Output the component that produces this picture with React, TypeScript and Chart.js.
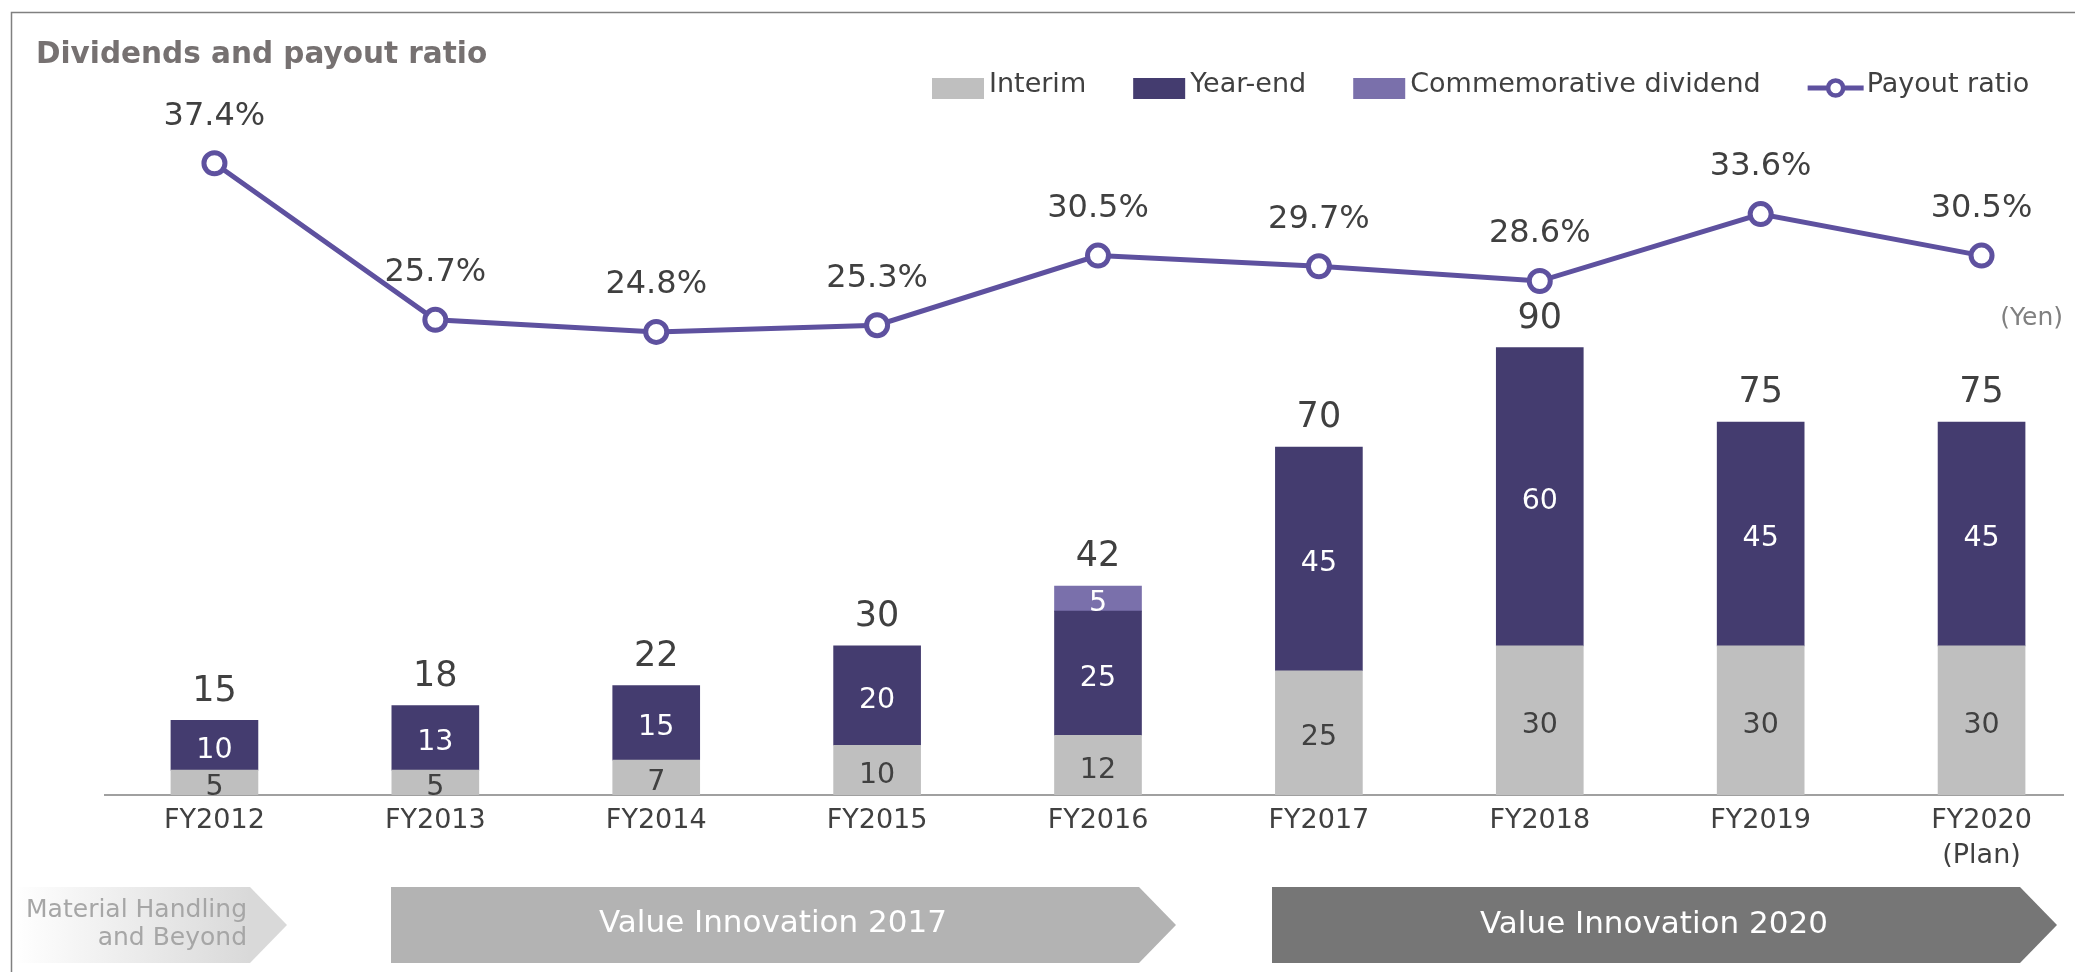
import React, { useEffect, useRef } from 'react';
import { Chart, registerables } from 'chart.js';

Chart.register(...registerables);

const FONT = "'DejaVu Sans', 'Noto Sans', sans-serif";

// ---- data ----
const categories: (string | string[])[] = [
  'FY2012', 'FY2013', 'FY2014', 'FY2015', 'FY2016', 'FY2017', 'FY2018', 'FY2019', ['FY2020', '(Plan)'],
];
const interim = [5, 5, 7, 10, 12, 25, 30, 30, 30];
const yearEnd = [10, 13, 15, 20, 25, 45, 60, 45, 45];
const commemorative: (number | null)[] = [null, null, null, null, 5, null, null, null, null];
const payoutRatio = [37.4, 25.7, 24.8, 25.3, 30.5, 29.7, 28.6, 33.6, 30.5];

const titleText = 'Dividends and payout ratio';
const unitText = '(Yen)';
const seriesNames = ['Interim', 'Year-end', 'Commemorative dividend', 'Payout ratio'];
const phaseLabels = [['Material Handling', 'and Beyond'], ['Value Innovation 2017'], ['Value Innovation 2020']];

// ---- styles ----
const COLORS = {
  interim: '#BFBFBF',
  yearEnd: '#443C6F',
  commem: '#7A70AB',
  line: '#5E519F',
  text: '#404040',
};

function chevron(ctx: CanvasRenderingContext2D, x0: number, x1: number, tip: number, top: number, bottom: number, fill: string | CanvasGradient) {
  ctx.beginPath();
  ctx.moveTo(x0, top);
  ctx.lineTo(x1, top);
  ctx.lineTo(tip, (top + bottom) / 2);
  ctx.lineTo(x1, bottom);
  ctx.lineTo(x0, bottom);
  ctx.closePath();
  ctx.fillStyle = fill;
  ctx.fill();
}

const decorPlugin = {
  id: 'decor',
  beforeDraw(chart: any) {
    const ctx: CanvasRenderingContext2D = chart.ctx;
    ctx.save();
    // frame
    ctx.strokeStyle = '#808080';
    ctx.lineWidth = 1.5;
    ctx.beginPath();
    ctx.moveTo(11.5, 972);
    ctx.lineTo(11.5, 12.5);
    ctx.lineTo(2092, 12.5);
    ctx.stroke();

    // title
    ctx.font = `bold 29.5px ${FONT}`;
    ctx.fillStyle = '#767171';
    ctx.textAlign = 'left';
    ctx.textBaseline = 'alphabetic';
    ctx.fillText(titleText, 36, 63);

    // legend
    const ds = chart.data.datasets;
    ctx.font = `27px ${FONT}`;
    ctx.textBaseline = 'middle';
    let x = 932;
    for (let i = 0; i < ds.length; i++) {
      const d = ds[i];
      if (d.type === 'line') {
        ctx.strokeStyle = d.borderColor;
        ctx.lineWidth = 5;
        ctx.beginPath();
        ctx.moveTo(x, 88);
        ctx.lineTo(x + 56, 88);
        ctx.stroke();
        ctx.beginPath();
        ctx.arc(x + 28, 88, 7.5, 0, Math.PI * 2);
        ctx.fillStyle = '#fff';
        ctx.fill();
        ctx.lineWidth = 4.5;
        ctx.stroke();
        x += 59;
      } else {
        ctx.fillStyle = d.backgroundColor;
        ctx.fillRect(x, 78, 52, 21);
        x += 57;
      }
      ctx.fillStyle = COLORS.text;
      ctx.fillText(d.label, x, 85);
      x += ctx.measureText(d.label).width + 47;
    }

    // unit
    ctx.font = `25px ${FONT}`;
    ctx.fillStyle = '#808080';
    ctx.textAlign = 'right';
    ctx.fillText(unitText, 2063, 318);

    // phases
    const top = 887, bottom = 963;
    const g = ctx.createLinearGradient(14, 0, 250, 0);
    g.addColorStop(0, '#ffffff');
    g.addColorStop(1, '#d9d9d9');
    chevron(ctx, 14, 250, 287, top, bottom, g);
    chevron(ctx, 391, 1139, 1176, top, bottom, '#B3B3B3');
    chevron(ctx, 1272, 2020, 2057, top, bottom, '#767676');

    ctx.font = `25px ${FONT}`;
    ctx.fillStyle = '#A6A6A6';
    ctx.textAlign = 'right';
    ctx.fillText(phaseLabels[0][0], 247, 910);
    ctx.fillText(phaseLabels[0][1], 247, 938);

    ctx.font = `31px ${FONT}`;
    ctx.fillStyle = '#ffffff';
    ctx.textAlign = 'center';
    ctx.fillText(phaseLabels[1][0], 773, 924);
    ctx.fillText(phaseLabels[2][0], 1654, 925);
    ctx.restore();
  },
  beforeDatasetsDraw(chart: any) {
    const ctx: CanvasRenderingContext2D = chart.ctx;
    const ca = chart.chartArea;
    ctx.save();
    ctx.strokeStyle = '#A0A0A0';
    ctx.lineWidth = 2;
    ctx.beginPath();
    ctx.moveTo(ca.left, ca.bottom);
    ctx.lineTo(2064, ca.bottom);
    ctx.stroke();
    ctx.restore();
  },
  afterDatasetsDraw(chart: any) {
    const ctx: CanvasRenderingContext2D = chart.ctx;
    ctx.save();
    ctx.textAlign = 'center';
    ctx.textBaseline = 'middle';
    const ds = chart.data.datasets;
    // segment labels
    ctx.font = `28.5px ${FONT}`;
    for (let i = 0; i < ds.length; i++) {
      if (ds[i].type === 'line') continue;
      const meta = chart.getDatasetMeta(i);
      meta.data.forEach((el: any, j: number) => {
        const v = ds[i].data[j];
        if (v == null) return;
        ctx.fillStyle = i === 0 ? COLORS.text : '#ffffff';
        ctx.fillText(String(v), el.x, (el.y + el.base) / 2 + 5);
      });
    }
    // totals
    const yScale = chart.scales.y;
    const meta0 = chart.getDatasetMeta(0);
    ctx.font = `35px ${FONT}`;
    ctx.fillStyle = COLORS.text;
    categories.forEach((_c, j) => {
      const total = interim[j] + yearEnd[j] + (commemorative[j] || 0);
      const yTop = yScale.getPixelForValue(total);
      ctx.fillText(String(total), meta0.data[j].x, yTop - 29);
    });
    // payout labels
    const li = ds.findIndex((d: any) => d.type === 'line');
    const lmeta = chart.getDatasetMeta(li);
    ctx.font = `32px ${FONT}`;
    lmeta.data.forEach((pt: any, j: number) => {
      ctx.fillText(payoutRatio[j].toFixed(1) + '%', pt.x, pt.y - 47);
    });
    ctx.restore();
  },
};

export default function App() {
  const ref = useRef<HTMLCanvasElement | null>(null);
  useEffect(() => {
    if (!ref.current) return;
    Chart.defaults.font.family = FONT;
    const chart = new Chart(ref.current, {
      type: 'bar',
      data: {
        labels: categories as any,
        datasets: [
          { type: 'bar', label: seriesNames[0], data: interim, backgroundColor: COLORS.interim, yAxisID: 'y', order: 1, barThickness: 87 } as any,
          { type: 'bar', label: seriesNames[1], data: yearEnd, backgroundColor: COLORS.yearEnd, yAxisID: 'y', order: 1, barThickness: 87 } as any,
          { type: 'bar', label: seriesNames[2], data: commemorative, backgroundColor: COLORS.commem, yAxisID: 'y', order: 1, barThickness: 87 } as any,
          {
            type: 'line', label: seriesNames[3], data: payoutRatio, yAxisID: 'y1', order: 0,
            borderColor: COLORS.line, borderWidth: 5, pointRadius: 10.5, pointHoverRadius: 10.5,
            pointBorderWidth: 5, pointBackgroundColor: '#ffffff', pointBorderColor: COLORS.line,
            tension: 0, clip: false,
          } as any,
        ],
      },
      options: {
        responsive: false,
        animation: false,
        devicePixelRatio: 1,
        layout: { autoPadding: false, padding: { left: 104, right: 0, top: 99, bottom: 0 } },
        plugins: { legend: { display: false }, title: { display: false }, tooltip: { enabled: false } },
        scales: {
          x: {
            stacked: true,
            grid: { display: false },
            border: { display: false },
            ticks: { color: COLORS.text, font: { size: 27, family: FONT, lineHeight: 1.3 }, padding: 0, maxRotation: 0, autoSkip: false },
            afterFit: (scale: any) => { scale.height = 177; scale.paddingLeft = 0; scale.paddingRight = 0; },
          },
          y: { stacked: true, display: false, min: 0, max: 140 },
          y1: { display: false, min: -9.8, max: 42.2, position: 'right' },
        },
      } as any,
      plugins: [decorPlugin as any],
    });
    return () => chart.destroy();
  }, []);
  return (
    <div style={{ position: 'absolute', left: 0, top: 0, width: 2075, height: 972, background: '#fff', overflow: 'hidden' }}>
      <canvas ref={ref} width={2092} height={972} style={{ display: 'block' }} />
    </div>
  );
}
